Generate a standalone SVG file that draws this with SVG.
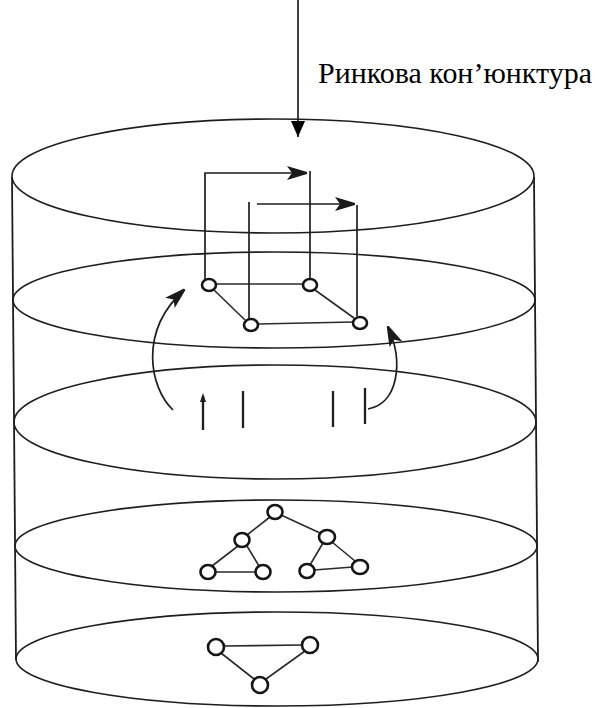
<svg xmlns="http://www.w3.org/2000/svg" width="595" height="708" viewBox="0 0 595 708">
  <style>
    .layer { fill: none; stroke: #1e1e1e; stroke-width: 1.6; }
    .wall { fill: none; stroke: #1e1e1e; stroke-width: 1.8; }
    .node { fill: #ffffff; stroke: #151515; stroke-width: 2.6; }
    .edge { fill: none; stroke: #2a2a2a; stroke-width: 1.6; }
    .flow { fill: none; stroke: #1e1e1e; stroke-width: 1.7; }
    .tick { fill: none; stroke: #1e1e1e; stroke-width: 2.3; }
    .label { font-family: "Liberation Serif", "Times New Roman", serif; font-size: 29px; fill: #000000; }
  </style>
  <defs>
    <marker id="tri" viewBox="0 0 16 14" refX="16" refY="7" markerWidth="16" markerHeight="14" markerUnits="userSpaceOnUse" orient="auto">
      <path d="M0,0 L16,7 L0,14 z" fill="#000000"/>
    </marker>
    <marker id="dart" viewBox="0 0 20 14" refX="19" refY="7" markerWidth="20" markerHeight="14" markerUnits="userSpaceOnUse" orient="auto">
      <path d="M0,0 L20,6 L20,8 L0,14 L5,7 z" fill="#1a1a1a"/>
    </marker>
  </defs>

  <rect width="595" height="708" fill="#ffffff"/>

  <!-- cylinder: five horizontal sections and the outer walls -->
  <g id="cylinder">
    <line class="wall" x1="12" y1="177" x2="16" y2="660"/>
    <line class="wall" x1="534" y1="177" x2="538" y2="662"/>
    <ellipse id="level-1" class="layer" cx="273" cy="176" rx="261" ry="57"/>
    <ellipse id="level-2" class="layer" cx="274" cy="300" rx="261" ry="48"/>
    <ellipse id="level-3" class="layer" cx="275" cy="422" rx="261" ry="57"/>
    <ellipse id="level-4" class="layer" cx="276" cy="546" rx="261" ry="46"/>
    <ellipse id="level-5" class="layer" cx="277" cy="659" rx="261" ry="47"/>
  </g>

  <!-- external input -->
  <g id="market-label">
    <text class="label" x="318" y="83" textLength="274" lengthAdjust="spacingAndGlyphs">Ринкова кон’юнктура</text>
  </g>

  <!-- connectors -->
  <g id="connectors">
    <line class="flow" x1="298" y1="0" x2="298" y2="137" marker-end="url(#tri)"/>

    <!-- links inside the upper network -->
    <line class="edge" x1="215" y1="284" x2="303" y2="284"/>
    <line class="edge" x1="214" y1="290" x2="245" y2="320"/>
    <line class="edge" x1="315" y1="290" x2="354" y2="318"/>
    <line class="edge" x1="258" y1="324" x2="353" y2="322"/>

    <!-- feedback loops above the network -->
    <path class="flow" d="M205,279 V173 H306" marker-end="url(#dart)"/>
    <line class="flow" x1="310" y1="171" x2="310" y2="279"/>
    <line class="flow" x1="249" y1="202" x2="249" y2="319"/>
    <path class="flow" d="M257,204 H354" marker-end="url(#dart)"/>
    <line class="flow" x1="357" y1="205" x2="357" y2="316"/>

    <!-- rising curves -->
    <path class="flow" d="M173,410 C150,388 138,332 184,290" marker-end="url(#dart)"/>
    <path class="flow" d="M368,409 C398,404 404,362 388,327" marker-end="url(#dart)"/>

    <!-- upward impulses -->
    <line class="tick" x1="203" y1="396" x2="203" y2="430"/>
    <path d="M200,402 L203,393 L206,402 z" fill="#1e1e1e"/>
    <line class="tick" x1="243" y1="391" x2="243" y2="428"/>
    <line class="tick" x1="333" y1="391" x2="333" y2="427"/>
    <line class="tick" x1="365" y1="388" x2="365" y2="424"/>

    <!-- links inside the middle networks -->
    <line class="edge" x1="270" y1="517" x2="247" y2="535"/>
    <line class="edge" x1="281" y1="515" x2="320" y2="533"/>
    <line class="edge" x1="238" y1="546" x2="212" y2="566"/>
    <line class="edge" x1="247" y1="546" x2="259" y2="566"/>
    <line class="edge" x1="215" y1="572" x2="256" y2="572"/>
    <line class="edge" x1="323" y1="543" x2="310" y2="565"/>
    <line class="edge" x1="332" y1="542" x2="355" y2="561"/>
    <line class="edge" x1="314" y1="570" x2="353" y2="567"/>

    <!-- links inside the lower network -->
    <line class="edge" x1="224" y1="646" x2="302" y2="645"/>
    <line class="edge" x1="221" y1="653" x2="254" y2="679"/>
    <line class="edge" x1="305" y1="651" x2="266" y2="679"/>
  </g>

  <!-- upper network -->
  <g id="node-a"><ellipse class="node" cx="209" cy="285" rx="7" ry="6"/></g>
  <g id="node-b"><ellipse class="node" cx="310" cy="285" rx="7" ry="6"/></g>
  <g id="node-c"><ellipse class="node" cx="251" cy="325" rx="7" ry="6"/></g>
  <g id="node-d"><ellipse class="node" cx="360" cy="323" rx="7" ry="6"/></g>

  <!-- middle networks -->
  <g id="node-e"><ellipse class="node" cx="275" cy="512" rx="7.5" ry="7"/></g>
  <g id="node-f"><ellipse class="node" cx="242" cy="540" rx="7.5" ry="7"/></g>
  <g id="node-g"><ellipse class="node" cx="327" cy="537" rx="8" ry="7"/></g>
  <g id="node-h"><ellipse class="node" cx="208" cy="572" rx="7.5" ry="7"/></g>
  <g id="node-i"><ellipse class="node" cx="263" cy="572" rx="7.5" ry="7"/></g>
  <g id="node-j"><ellipse class="node" cx="307" cy="571" rx="7.5" ry="7"/></g>
  <g id="node-k"><ellipse class="node" cx="360" cy="567" rx="8" ry="7"/></g>

  <!-- lower network -->
  <g id="node-l"><ellipse class="node" cx="216" cy="647" rx="8" ry="8"/></g>
  <g id="node-m"><ellipse class="node" cx="310" cy="645" rx="8" ry="8"/></g>
  <g id="node-n"><ellipse class="node" cx="260" cy="685" rx="8" ry="8"/></g>
</svg>
